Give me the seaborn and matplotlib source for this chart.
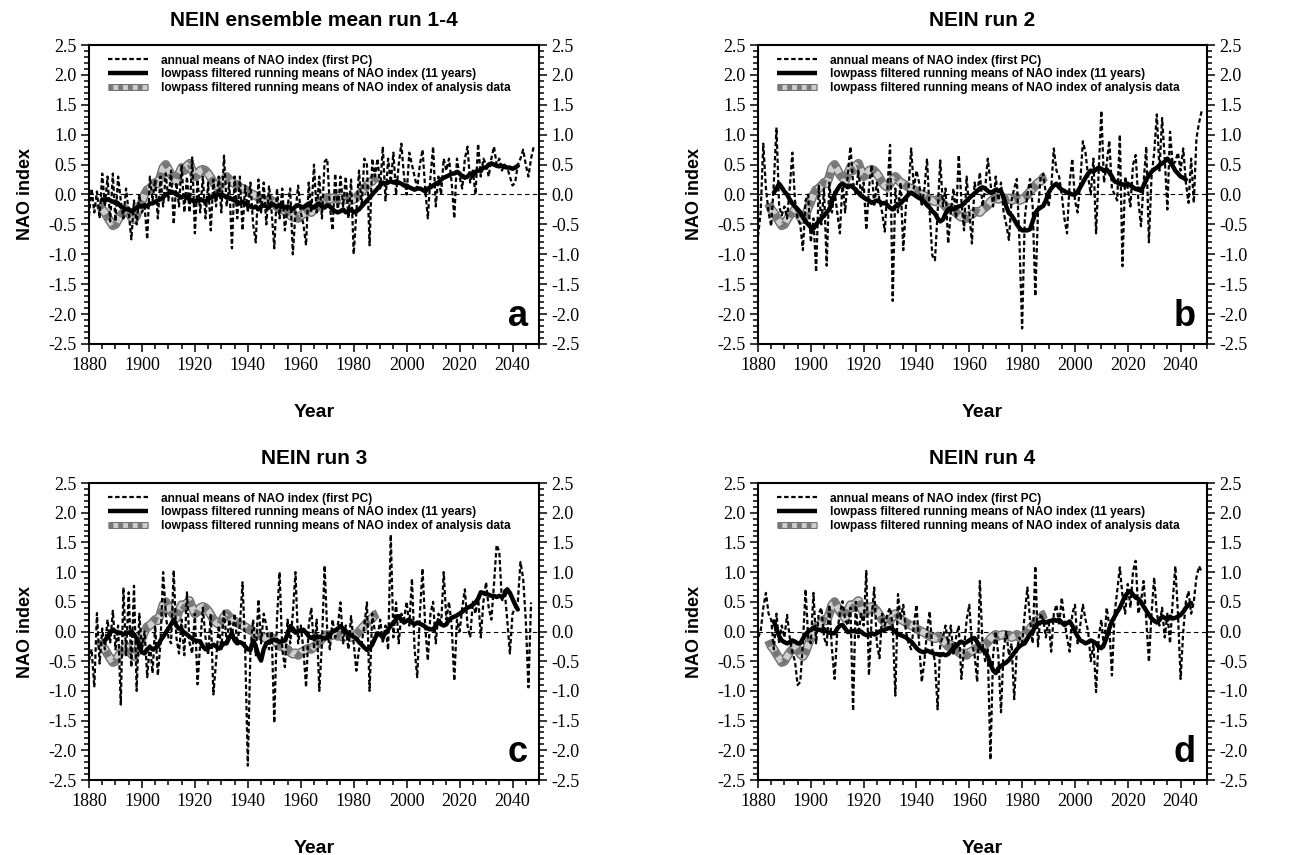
import numpy as np
import pandas as pd
import matplotlib
matplotlib.use('Agg')
import matplotlib.pyplot as plt
import seaborn as sns
from matplotlib.lines import Line2D
from matplotlib.legend_handler import HandlerTuple
from matplotlib.ticker import MultipleLocator

# ---- data (NAO index) ----
first_year = 1880

# lowpass filtered running means of the analysis data (same in all panels), from 1884
analysis_start = 1884
analysis = [
    -0.15, -0.25, -0.3, -0.38, -0.45, -0.52,
    -0.5, -0.42, -0.35, -0.3, -0.25, -0.3, -0.38, -0.42, -0.35, -0.22,
    -0.12, 0.0, 0.08, 0.1, 0.15, 0.2, 0.18, 0.3, 0.45, 0.5,
    0.42, 0.33, 0.28, 0.22, 0.35, 0.45, 0.4, 0.48, 0.52, 0.4,
    0.3, 0.33, 0.4, 0.42, 0.4, 0.35, 0.28, 0.2, 0.15, 0.12,
    0.18, 0.25, 0.3, 0.25, 0.2, 0.18, 0.15, 0.12, 0.1, 0.08,
    0.05, 0.02, 0.0, -0.02, -0.05, -0.08, -0.1, -0.12, -0.08, -0.1,
    -0.15, -0.2, -0.25, -0.22, -0.28, -0.3, -0.35, -0.38, -0.36, -0.4,
    -0.35, -0.33, -0.3, -0.28, -0.3, -0.25, -0.22, -0.18, -0.12, -0.08,
    -0.05, -0.08, -0.06, -0.05, -0.08, -0.06, -0.1, -0.08, -0.05, -0.1,
    -0.08, -0.05, 0.0, 0.05, 0.1, 0.15, 0.2, 0.22, 0.28, 0.3,
]

# panel a: ensemble mean run 1-4
annual_a = [
    -0.35, 0.1, -0.3, 0.05, -0.4, 0.35, -0.2, 0.3, -0.45, 0.35,
    -0.45, 0.3, -0.1, -0.4, 0.1, -0.3, -0.75, -0.1, -0.5, 0.0,
    -0.3, -0.2, -0.75, 0.3, -0.1, 0.25, -0.4, 0.3, -0.2, 0.35,
    -0.1, 0.4, -0.5, 0.2, -0.2, 0.5, -0.3, 0.3, -0.3, 0.62,
    -0.65, 0.25, -0.3, 0.3, -0.4, 0.2, -0.6, 0.25, -0.2, 0.3,
    -0.3, 0.65, -0.2, 0.2, -0.9, 0.3, -0.4, 0.3, -0.6, 0.15,
    -0.3, 0.2, -0.5, -0.8, 0.25, -0.3, 0.2, -0.5, 0.15, -0.3,
    -0.9, 0.1, -0.4, 0.1, -0.6, -0.2, 0.1, -1.0, -0.3, 0.15,
    -0.3, -0.5, -0.85, 0.2, -0.3, 0.5, -0.3, 0.3, -0.4, 0.55,
    0.6, -0.2, -0.6, 0.35, -0.3, 0.3, -0.2, 0.3, -0.4, 0.25,
    -1.0, -0.3, 0.4, -0.2, 0.6, 0.5, -0.85, 0.6, 0.3, 0.6,
    0.1, 0.8, -0.1, 0.6, 0.2, 0.7, 0.0, 0.5, 0.85, 0.3,
    0.0, 0.7, 0.5, 0.3, 0.1, 0.5, 0.75, 0.1, -0.4, 0.3,
    0.8, -0.2, 0.3, 0.0, 0.6, 0.4, 0.6, 0.2, -0.4, 0.6,
    0.3, 0.1, 0.6, 0.8, 0.2, 0.4, 0.0, 0.85, 0.3, 0.6,
    0.5, 0.3, 0.6, 0.8, 0.5, 0.6, 0.4, 0.5, 0.45, 0.3,
    0.15, 0.2, 0.5, 0.6, 0.75, 0.5, 0.3, 0.6, 0.8,
]
run_start_a = 1885
runmean_a = [
    -0.08, -0.1, -0.08, -0.1, -0.12,
    -0.12, -0.15, -0.2, -0.22, -0.25, -0.25, -0.28, -0.25, -0.22, -0.2,
    -0.2, -0.18, -0.2, -0.15, -0.15, -0.12, -0.1, -0.08, -0.05, 0.0,
    0.02, 0.05, 0.03, 0.0, -0.02, -0.05, -0.03, -0.05, -0.08, -0.1,
    -0.12, -0.1, -0.08, -0.1, -0.12, -0.08, -0.05, -0.03, -0.02, 0.0,
    0.0, -0.02, -0.05, -0.05, -0.08, -0.1, -0.12, -0.15, -0.12, -0.15,
    -0.18, -0.2, -0.22, -0.2, -0.25, -0.2, -0.18, -0.2, -0.22, -0.15,
    -0.18, -0.2, -0.18, -0.2, -0.22, -0.2, -0.22, -0.25, -0.2, -0.18,
    -0.2, -0.22, -0.18, -0.15, -0.2, -0.22, -0.18, -0.15, -0.2, -0.22,
    -0.18, -0.2, -0.25, -0.28, -0.3, -0.28, -0.25, -0.3, -0.28, -0.25,
    -0.3, -0.28, -0.25, -0.2, -0.15, -0.1, -0.05, 0.0, 0.05, 0.1,
    0.15, 0.2, 0.18, 0.2, 0.22, 0.2, 0.22, 0.2, 0.18, 0.15,
    0.15, 0.12, 0.1, 0.08, 0.1, 0.1, 0.08, 0.05, 0.1, 0.12,
    0.15, 0.18, 0.2, 0.25, 0.28, 0.3, 0.32, 0.35, 0.35, 0.38,
    0.35, 0.3, 0.28, 0.3, 0.35, 0.32, 0.38, 0.4, 0.4, 0.45,
    0.45, 0.5, 0.52, 0.5, 0.48, 0.47, 0.48, 0.46, 0.45, 0.45,
    0.43, 0.45, 0.48,
]

# panel b: run 2
annual_b = [
    -0.7, -0.3, 0.85, 0.1, -0.3, -0.53, 0.2, 1.12, -0.2, -0.35,
    -0.2, -0.4, 0.1, 0.7, -0.1, -0.4, -0.5, -0.93, -0.1, 0.0,
    -0.8, -0.4, -1.3, 0.15, -0.5, 0.1, -1.19, 0.2, -0.3, 0.05,
    -0.3, -0.65, 0.2, -0.3, 0.35, 0.8, 0.2, 0.0, 0.4, 0.0,
    0.2, -0.59, 0.1, 0.49, -0.2, 0.2, -0.1, -0.3, -0.62, 0.1,
    0.83, -1.78, 0.1, -0.3, 0.2, -0.93, -0.2, 0.1, 0.77, 0.1,
    0.4, 0.2, -0.2, 0.1, 0.6, -0.3, -1.02, -1.1, -0.3, 0.57,
    -0.2, 0.1, -0.82, -0.3, 0.1, -0.4, 0.66, -0.1, -0.6, 0.3,
    -0.3, -0.82, 0.2, 0.0, 0.37, -0.2, 0.1, 0.6, 0.2, -0.2,
    0.3, -0.1, 0.2, -0.3, -0.5, -0.76, -0.1, 0.1, 0.26, -0.8,
    -2.24, -0.4, 0.0, 0.26, -0.2, -1.7, -0.3, 0.3, 0.35, 0.0,
    -0.2, 0.1, 0.77, 0.4, 0.3, 0.0, -0.4, -0.65, 0.2, 0.6,
    -0.1, -0.3, 0.2, 0.89, 0.7, 0.3, 0.0, 0.6, -0.65, 0.4,
    1.4, 0.2, 0.5, 0.9, 0.1, 0.0, -0.1, 1.0, -1.2, 0.3,
    0.1, -0.2, 0.5, 0.66, -0.1, -0.53, 0.2, 0.8, -0.8, 0.3,
    0.7, 1.34, 0.4, 1.28, 0.6, -0.25, 1.05, 0.5, 0.55, 0.7,
    0.4, 0.77, 0.2, -0.14, 0.6, -0.14, 0.94, 1.2, 1.4,
]
run_start_b = 1886
runmean_b = [
    0.03, 0.1, 0.18, 0.12,
    0.05, 0.0, -0.08, -0.15, -0.2, -0.25, -0.3, -0.38, -0.45, -0.5,
    -0.55, -0.57, -0.5, -0.45, -0.4, -0.35, -0.3, -0.25, -0.12, 0.0,
    0.08, 0.15, 0.18, 0.15, 0.12, 0.15, 0.12, 0.08, 0.03, -0.02,
    -0.05, -0.08, -0.1, -0.14, -0.12, -0.1, -0.12, -0.15, -0.14, -0.18,
    -0.22, -0.25, -0.2, -0.18, -0.15, -0.1, -0.05, 0.0, 0.03, 0.0,
    -0.03, -0.06, -0.08, -0.12, -0.18, -0.22, -0.28, -0.32, -0.4, -0.45,
    -0.42, -0.32, -0.25, -0.22, -0.25, -0.22, -0.2, -0.19, -0.15, -0.1,
    -0.06, -0.02, 0.02, 0.06, 0.1, 0.12, 0.1, 0.06, 0.03, 0.05,
    0.08, 0.06, 0.06, -0.05, -0.2, -0.31, -0.35, -0.42, -0.5, -0.56,
    -0.6, -0.6, -0.6, -0.58, -0.45, -0.31, -0.25, -0.22, -0.19, -0.1,
    0.03, 0.1, 0.15, 0.18, 0.12, 0.08, 0.06, 0.03, 0.02, 0.0,
    0.0, 0.05, 0.12, 0.2, 0.28, 0.35, 0.4, 0.38, 0.42, 0.45,
    0.43, 0.4, 0.42, 0.37, 0.3, 0.22, 0.2, 0.18, 0.17, 0.15,
    0.18, 0.15, 0.12, 0.09, 0.1, 0.06, 0.15, 0.25, 0.32, 0.38,
    0.42, 0.45, 0.49, 0.52, 0.55, 0.6, 0.55, 0.48, 0.4, 0.35,
    0.3, 0.28, 0.25,
]

# panel c: run 3
annual_c = [
    -0.49, -0.3, -0.94, 0.31, -0.54, 0.05, -0.3, 0.2, -0.2, 0.35,
    -0.3, 0.1, -1.23, 0.74, -0.4, 0.66, -0.6, 0.77, -1.0, 0.3,
    -0.3, 0.0, -0.77, -0.2, -0.7, 0.1, -0.74, -0.2, 1.0, 0.3,
    -0.1, -0.2, 1.03, -0.1, -0.37, 0.2, -0.4, 0.66, -0.2, -0.37,
    0.3, -0.89, -0.2, 0.4, -0.1, -0.4, 0.3, -1.06, -0.5, 0.1,
    -0.3, 0.37, -0.2, 0.2, -0.1, 0.3, -0.2, 0.1, 0.83, -0.3,
    -2.26, -0.3, 0.2, -0.4, 0.54, -0.2, 0.3, 0.1, -0.3, 0.0,
    -1.54, 0.2, 1.0, -0.3, -0.6, 0.2, -0.2, 0.3, 1.0, -0.2,
    0.1, -0.3, -0.94, 0.1, 0.4, -0.3, 0.2, -1.0, -0.2, 1.11,
    0.0, -0.3, 0.2, -0.1, 0.1, 0.49, -0.2, 0.1, -0.3, 0.26,
    -0.2, -0.66, -0.3, -0.2, 0.1, 0.49, -1.0, 0.3, 0.0, -0.1,
    0.2, -0.2, 0.1, -0.31, 1.63, -0.1, 0.49, -0.2, 0.3, 0.2,
    0.5, 0.1, 0.89, -0.3, -0.77, 0.3, 1.06, 0.1, -0.49, 0.3,
    0.5, -0.2, 0.3, 0.1, 1.0, 0.2, 0.5, 0.1, -0.83, 0.2,
    0.0, 0.4, 0.71, 0.1, -0.1, 0.5, 0.3, 0.6, -0.1, 0.5,
    0.83, 0.4, 0.2, 0.8, 1.46, 1.34, 0.5, 0.7, 0.2, -0.37,
    0.3, 0.4, 0.5, 1.17, 0.9, 0.2, -0.94, 0.49,
]
run_start_c = 1886
runmean_c = [
    -0.15, -0.1, -0.02, 0.03,
    0.0, -0.03, -0.02, -0.05, -0.03, -0.02, 0.0, -0.05, -0.12, -0.25,
    -0.35, -0.37, -0.3, -0.26, -0.3, -0.28, -0.25, -0.15, -0.09, -0.02,
    0.05, 0.12, 0.2, 0.1, 0.05, 0.03, -0.02, -0.05, -0.09, -0.12,
    -0.15, -0.16, -0.17, -0.25, -0.3, -0.28, -0.25, -0.22, -0.25, -0.29,
    -0.25, -0.2, -0.2, -0.1, -0.03, -0.15, -0.2, -0.18, -0.2, -0.25,
    -0.3, -0.31, -0.15, -0.25, -0.4, -0.49, -0.3, -0.2, -0.18, -0.15,
    -0.14, -0.15, -0.18, -0.16, -0.15, -0.05, 0.09, 0.05, -0.02, 0.0,
    0.02, 0.03, -0.02, -0.08, -0.11, -0.08, -0.1, -0.09, -0.1, -0.12,
    -0.1, -0.05, 0.0, 0.02, 0.05, 0.09, 0.05, 0.0, -0.05, -0.06,
    -0.09, -0.12, -0.18, -0.22, -0.27, -0.31, -0.28, -0.22, -0.12, -0.03,
    -0.05, -0.1, -0.02, 0.03, 0.1, 0.15, 0.2, 0.26, 0.2, 0.15,
    0.18, 0.2, 0.15, 0.12, 0.15, 0.13, 0.11, 0.08, 0.05, 0.04,
    0.03, 0.1, 0.17, 0.12, 0.1, 0.12, 0.2, 0.23, 0.25, 0.27,
    0.3, 0.33, 0.37, 0.4, 0.42, 0.45, 0.49, 0.55, 0.66, 0.65,
    0.63, 0.62, 0.6, 0.6, 0.58, 0.6, 0.58, 0.62, 0.71, 0.65,
    0.55, 0.45, 0.37,
]

# panel d: run 4
annual_d = [
    -0.1, 0.0, 0.4, 0.65, 0.3, 0.2, -0.3, 0.3, -0.2, 0.1,
    -0.1, 0.28, -0.1, -0.35, -0.5, -0.9, -0.85, -0.2, 0.71, -0.1,
    -0.2, 0.65, -0.2, 0.3, 0.4, -0.1, -0.23, 0.45, -0.3, -0.8,
    0.0, 0.3, 0.51, 0.2, 0.1, 0.4, -1.34, 0.5, -0.1, 0.3,
    0.1, 1.02, -0.74, 0.2, 0.74, -0.2, -0.45, 0.3, 0.1, 0.3,
    0.4, 0.1, -1.08, 0.63, 0.2, 0.45, 0.0, -0.2, -0.3, 0.1,
    0.45, -0.2, -0.85, -0.5, 0.0, 0.34, -0.3, -0.5, -1.31, -0.2,
    -0.1, 0.1, -0.2, 0.1, -0.4, -0.1, 0.1, -0.8, -0.3, 0.2,
    0.45, -0.2, -0.4, -0.85, 0.85, -0.2, -0.5, -0.3, -2.16, -0.4,
    0.0, -0.4, -1.36, -0.3, 0.0, -0.4, -0.2, -1.14, -0.3, -0.1,
    -0.2, 0.3, 0.74, 0.2, -0.2, 1.1, -0.25, 0.3, 0.2, -0.1,
    0.2, -0.34, 0.3, 0.45, 0.1, 0.57, 0.2, -0.1, -0.34, 0.3,
    0.45, -0.2, 0.1, 0.45, 0.2, 0.0, -0.5, -0.2, -1.02, -0.1,
    0.2, -0.3, 0.4, 0.1, -0.74, 0.3, 0.68, 1.08, 0.6, 0.3,
    0.8, 0.4, 1.02, 1.19, 0.3, 0.5, 0.85, 0.2, -0.51, 0.3,
    0.91, 0.3, 0.1, 0.4, -0.1, 0.3, -0.2, 0.5, 1.1, 0.3,
    -0.8, 0.0, 0.5, 0.68, 0.3, 0.5, 0.91, 1.1, 1.0,
]
run_start_d = 1886
runmean_d = [
    0.17, 0.05, -0.08, -0.15,
    -0.18, -0.2, -0.18, -0.15, -0.17, -0.2, -0.2, -0.12, -0.05, 0.0,
    0.03, 0.06, 0.04, 0.03, 0.02, 0.04, 0.0, -0.02, -0.03, -0.03,
    0.05, 0.1, 0.11, 0.05, -0.01, 0.0, 0.01, 0.0, -0.01, 0.0,
    -0.04, -0.06, -0.05, -0.03, -0.05, -0.03, 0.0, 0.02, 0.03, 0.05,
    0.06, 0.04, 0.0, -0.05, -0.06, -0.08, -0.1, -0.14, -0.17, -0.22,
    -0.28, -0.32, -0.34, -0.35, -0.32, -0.34, -0.36, -0.38, -0.38, -0.4,
    -0.38, -0.4, -0.38, -0.33, -0.28, -0.25, -0.2, -0.17, -0.2, -0.18,
    -0.15, -0.12, -0.11, -0.18, -0.26, -0.3, -0.34, -0.42, -0.55, -0.65,
    -0.7, -0.62, -0.58, -0.55, -0.52, -0.48, -0.42, -0.36, -0.3, -0.25,
    -0.22, -0.2, -0.12, -0.05, 0.0, 0.08, 0.14, 0.15, 0.17, 0.15,
    0.17, 0.18, 0.2, 0.18, 0.2, 0.15, 0.11, 0.14, 0.17, 0.1,
    0.0, -0.08, -0.15, -0.17, -0.2, -0.18, -0.15, -0.17, -0.2, -0.26,
    -0.28, -0.22, -0.1, 0.05, 0.17, 0.25, 0.33, 0.4, 0.5, 0.6,
    0.65, 0.68, 0.62, 0.57, 0.55, 0.5, 0.42, 0.35, 0.28, 0.22,
    0.18, 0.15, 0.2, 0.25, 0.23, 0.2, 0.25, 0.22, 0.23, 0.25,
    0.28, 0.33, 0.4, 0.45, 0.48,
]

titles = ['NEIN ensemble mean run 1-4', 'NEIN run 2', 'NEIN run 3', 'NEIN run 4']
letters = ['a', 'b', 'c', 'd']
legend_labels = ['annual means of NAO index (first PC)',
                 'lowpass filtered running means of NAO index (11 years)',
                 'lowpass filtered running means of NAO index of analysis data']

sns.set_theme(style='ticks')
plt.rcParams['font.family'] = ['Liberation Serif', 'DejaVu Serif']
plt.rcParams['axes.unicode_minus'] = False
plt.rcParams['text.color'] = 'black'
plt.rcParams['axes.labelcolor'] = 'black'
plt.rcParams['xtick.color'] = 'black'
plt.rcParams['ytick.color'] = 'black'

SANS = 'Liberation Sans'
DASH = (0, (2.0, 1.2))
HATCH = (0, (1, 1))


def series(start, values):
    return pd.DataFrame({'Year': start + np.arange(len(values)), 'NAO': values})


def draw_panel(ax, title, letter, annual, run_start, runmean):
    ax.axhline(0, color='black', lw=0.8, ls=(0, (4, 3)), zorder=1)

    # hatched grey band for the analysis data
    obs = series(analysis_start, analysis)
    sns.lineplot(data=obs, x='Year', y='NAO', ax=ax, color='#6e6e6e', lw=6.5,
                 solid_capstyle='butt', zorder=2)
    sns.lineplot(data=obs, x='Year', y='NAO', ax=ax, color='#cfcfcf', lw=4.5,
                 solid_capstyle='butt', zorder=2)
    sns.lineplot(data=obs, x='Year', y='NAO', ax=ax, color='#777777', lw=4.5,
                 linestyle=HATCH, zorder=2)

    sns.lineplot(data=series(first_year, annual), x='Year', y='NAO', ax=ax,
                 color='black', lw=1.6, linestyle=DASH, zorder=3)
    sns.lineplot(data=series(run_start, runmean), x='Year', y='NAO', ax=ax,
                 color='black', lw=3.2, zorder=4)

    ax.set_xlim(1880, 2050)
    ax.set_ylim(-2.5, 2.5)
    ax.set_xticks(np.arange(1880, 2041, 20))
    ax.xaxis.set_minor_locator(MultipleLocator(5))
    ax.set_yticks(np.arange(-2.5, 2.51, 0.5))
    ax.set_yticklabels(['%.1f' % v for v in np.arange(-2.5, 2.51, 0.5)])
    ax.yaxis.set_minor_locator(MultipleLocator(0.1))
    ax.tick_params(axis='both', which='both', direction='out', width=1.1,
                   labelsize=13, colors='black')
    ax.tick_params(axis='y', which='both', left=True, right=True,
                   labelleft=True, labelright=True)
    ax.tick_params(axis='x', which='both', top=False)
    ax.tick_params(which='major', length=6, pad=3)
    ax.tick_params(which='minor', length=3.5)
    for sp in ax.spines.values():
        sp.set_linewidth(1.5)
        sp.set_color('black')
    ax.grid(False)

    ax.set_title(title, fontsize=15, fontweight='bold', family=SANS, pad=14)
    ax.set_xlabel('Year', fontsize=14, fontweight='bold', family=SANS, labelpad=22)
    ax.set_ylabel('NAO index', fontsize=13, fontweight='bold', family=SANS, labelpad=10)
    ax.text(0.975, 0.035, letter, transform=ax.transAxes, ha='right', va='bottom',
            fontsize=26, fontweight='bold', family=SANS)

    h_ann = Line2D([], [], color='black', lw=1.6, ls=DASH)
    h_run = Line2D([], [], color='black', lw=3.2, solid_capstyle='butt')
    h_obs = (Line2D([], [], color='#6e6e6e', lw=5, solid_capstyle='butt'),
             Line2D([], [], color='#cfcfcf', lw=3.5, solid_capstyle='butt'),
             Line2D([], [], color='#777777', lw=3.5, ls=HATCH))
    ax.legend([h_ann, h_run, h_obs], legend_labels,
              handler_map={tuple: HandlerTuple(ndivide=1)},
              loc='upper left', frameon=False, handlelength=3.4,
              handletextpad=1.1, labelspacing=0.15, borderaxespad=0.4,
              bbox_to_anchor=(0.02, 1.0),
              prop={'family': SANS, 'weight': 'bold', 'size': 8.6})


W, H = 1307, 855
fig = plt.figure(figsize=(W / 100, H / 100), dpi=100)
boxes = [(89, 45, 539, 344), (758, 45, 1207, 344),
         (89, 483, 539, 780), (758, 483, 1207, 780)]
axes = [fig.add_axes([l / W, (H - b) / H, (r - l) / W, (b - t) / H])
        for (l, t, r, b) in boxes]

draw_panel(axes[0], titles[0], letters[0], annual_a, run_start_a, runmean_a)
draw_panel(axes[1], titles[1], letters[1], annual_b, run_start_b, runmean_b)
draw_panel(axes[2], titles[2], letters[2], annual_c, run_start_c, runmean_c)
draw_panel(axes[3], titles[3], letters[3], annual_d, run_start_d, runmean_d)

fig.savefig('out.png', dpi=100)
